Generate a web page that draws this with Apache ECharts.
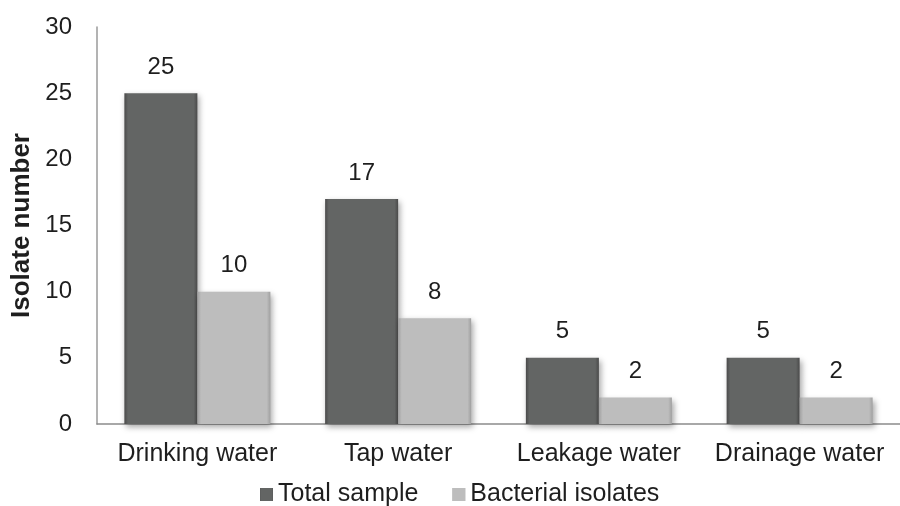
<!DOCTYPE html>
<html>
<head>
<meta charset="utf-8">
<script src="https://cdn.jsdelivr.net/npm/echarts@6/dist/echarts.min.js"></script>
<style>
  html, body { margin: 0; padding: 0; background: #fff; }
  #chart { width: 900px; height: 506px; }
</style>
</head>
<body>
<div id="chart"></div>
<script>
// Water source categories and isolate counts
const categories = ['Drinking water', 'Tap water', 'Leakage water', 'Drainage water'];
const totalSample = [25, 17, 5, 5];
const bacterialIsolates = [10, 8, 2, 2];
const seriesNames = ['Total sample', 'Bacterial isolates'];

const FONT = 'Liberation Sans, Arial, sans-serif';
const TEXT = '#1e1e1e';

// Flat bar with darkened side edges and a soft drop shadow
function bevel(base, dark) {
  return {
    color: {
      type: 'linear', x: 0, y: 0, x2: 1, y2: 0,
      colorStops: [
        { offset: 0, color: dark },
        { offset: 0.05, color: base },
        { offset: 0.95, color: base },
        { offset: 1, color: dark }
      ]
    },
    shadowColor: 'rgba(0,0,0,0.35)',
    shadowBlur: 6,
    shadowOffsetX: 2,
    shadowOffsetY: 3
  };
}

const chart = echarts.init(document.getElementById('chart'));
chart.setOption({
  animation: false,
  backgroundColor: '#ffffff',
  grid: { left: 97, right: -7, top: 27, bottom: 82, containLabel: false },
  legend: {
    bottom: -6,
    left: 255,
    itemWidth: 13,
    itemHeight: 13,
    itemGap: 34,
    icon: 'rect',
    textStyle: { fontFamily: FONT, fontSize: 25, color: TEXT, padding: [0, 0, 0, 0] },
    data: seriesNames
  },
  xAxis: {
    type: 'category',
    data: categories,
    axisLine: { lineStyle: { color: '#8c8c8c', width: 1.5 } },
    axisTick: { show: false },
    axisLabel: { fontFamily: FONT, fontSize: 25, color: TEXT, margin: 18, interval: 0 }
  },
  yAxis: {
    type: 'value',
    min: 0,
    max: 30,
    interval: 5,
    name: 'Isolate number',
    nameLocation: 'middle',
    nameGap: 60,
    nameTextStyle: { fontFamily: FONT, fontSize: 26, fontWeight: 'bold', color: TEXT },
    axisLine: { show: true, lineStyle: { color: '#9a9a9a', width: 1.5 } },
    axisTick: { show: false },
    splitLine: { show: false },
    axisLabel: { fontFamily: FONT, fontSize: 24, color: TEXT, margin: 25 }
  },
  series: [
    {
      name: seriesNames[0],
      type: 'bar',
      data: totalSample,
      barWidth: 73,
      barGap: '0%',
      itemStyle: bevel('#636564', '#4a4a4a'),
      label: { show: true, position: 'top', distance: 14, fontFamily: FONT, fontSize: 24, color: TEXT }
    },
    {
      name: seriesNames[1],
      type: 'bar',
      data: bacterialIsolates,
      barWidth: 73,
      barGap: '0%',
      itemStyle: bevel('#bdbdbd', '#a0a0a0'),
      label: { show: true, position: 'top', distance: 14, fontFamily: FONT, fontSize: 24, color: TEXT }
    }
  ]
});
</script>
</body>
</html>
